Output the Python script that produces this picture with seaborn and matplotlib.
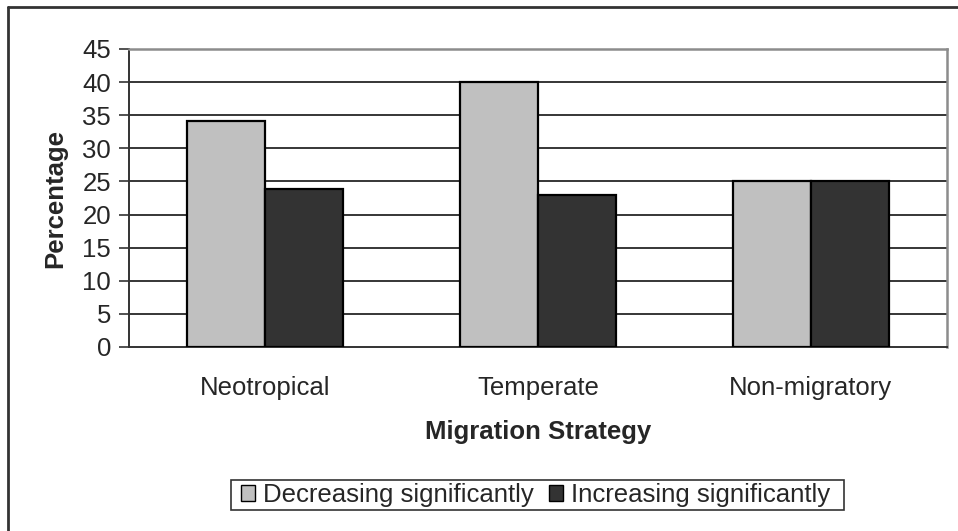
import matplotlib
matplotlib.use("Agg")
import matplotlib.pyplot as plt
import seaborn as sns
import pandas as pd
from matplotlib.lines import Line2D
from matplotlib.patches import Patch, Rectangle

categories = ["Neotropical", "Temperate", "Non-migratory"]
series_names = ["Decreasing significantly", "Increasing significantly"]
decreasing = [34.2, 40.0, 25.0]
increasing = [23.9, 23.0, 25.0]
y_ticks = [0, 5, 10, 15, 20, 25, 30, 35, 40, 45]
colors = ["#C0C0C0", "#333333"]

df = pd.DataFrame({
    "Migration Strategy": categories * 2,
    "Series": [series_names[0]] * 3 + [series_names[1]] * 3,
    "Percentage": decreasing + increasing,
})

sns.set_style("white")
plt.rcParams["font.family"] = ["Liberation Sans", "DejaVu Sans"]
FS = 18.5

W, H = 958, 531
fig = plt.figure(figsize=(W / 100, H / 100), dpi=100)
ax = fig.add_axes([129 / W, 1 - 347 / H, (947 - 129) / W, (347 - 49) / H])

sns.barplot(data=df, x="Migration Strategy", y="Percentage", hue="Series",
            order=categories, hue_order=series_names, palette=colors,
            width=0.572, dodge=True, edgecolor="black", linewidth=1.6,
            saturation=1, ax=ax, legend=False, zorder=3, gap=0)

ax.set_xlim(-0.5, 2.5)
ax.set_ylim(0, 45)
ax.set_yticks(y_ticks)
ax.set_yticklabels([str(v) for v in y_ticks], fontsize=FS)
for v in y_ticks[1:-1]:
    ax.axhline(v, color="black", lw=1.1, zorder=1)

ax.set_xticks(range(len(categories)))
ax.set_xticklabels(categories, fontsize=FS)
ax.set_xticks([-0.5, 0.5, 1.5, 2.5], minor=True)
ax.tick_params(axis="x", which="major", length=0, pad=21)
ax.tick_params(axis="x", which="minor", length=7, width=1.2, color="#333333", direction="out")
ax.tick_params(axis="y", length=7, width=1.2, color="#333333", direction="out", pad=6, left=True)

for s in ["left", "bottom"]:
    ax.spines[s].set_color("#333333")
    ax.spines[s].set_linewidth(1.4)
for s in ["top", "right"]:
    ax.spines[s].set_color("#8C8C8C")
    ax.spines[s].set_linewidth(1.8)

ax.set_xlabel("Migration Strategy", fontsize=FS, fontweight="bold", labelpad=14)
ax.set_ylabel("Percentage", fontsize=FS, fontweight="bold", labelpad=11)

handles = [Patch(facecolor=c, edgecolor="black", linewidth=1.0) for c in colors]
leg = fig.legend(handles, series_names, loc="center", ncol=2,
                 bbox_to_anchor=(535.5 / W, 1 - 495 / H), fontsize=FS,
                 frameon=False,
                 handlelength=0.55, handleheight=0.55, handletextpad=0.3,
                 columnspacing=0.6, borderpad=0.0, borderaxespad=0)

# legend frame
fig.add_artist(Rectangle((231 / W, 1 - 510 / H), (844 - 231) / W, 30 / H,
                         transform=fig.transFigure, fill=False,
                         edgecolor="#333333", lw=1.2))

# outer chart border (left and top visible)
fig.add_artist(Line2D([8 / W, 8 / W], [1 - 7 / H, 0], transform=fig.transFigure,
                      color="#333333", lw=2))
fig.add_artist(Line2D([8 / W, 1], [1 - 7 / H, 1 - 7 / H], transform=fig.transFigure,
                      color="#333333", lw=2))

fig.savefig("out.png", dpi=100, facecolor="white")
